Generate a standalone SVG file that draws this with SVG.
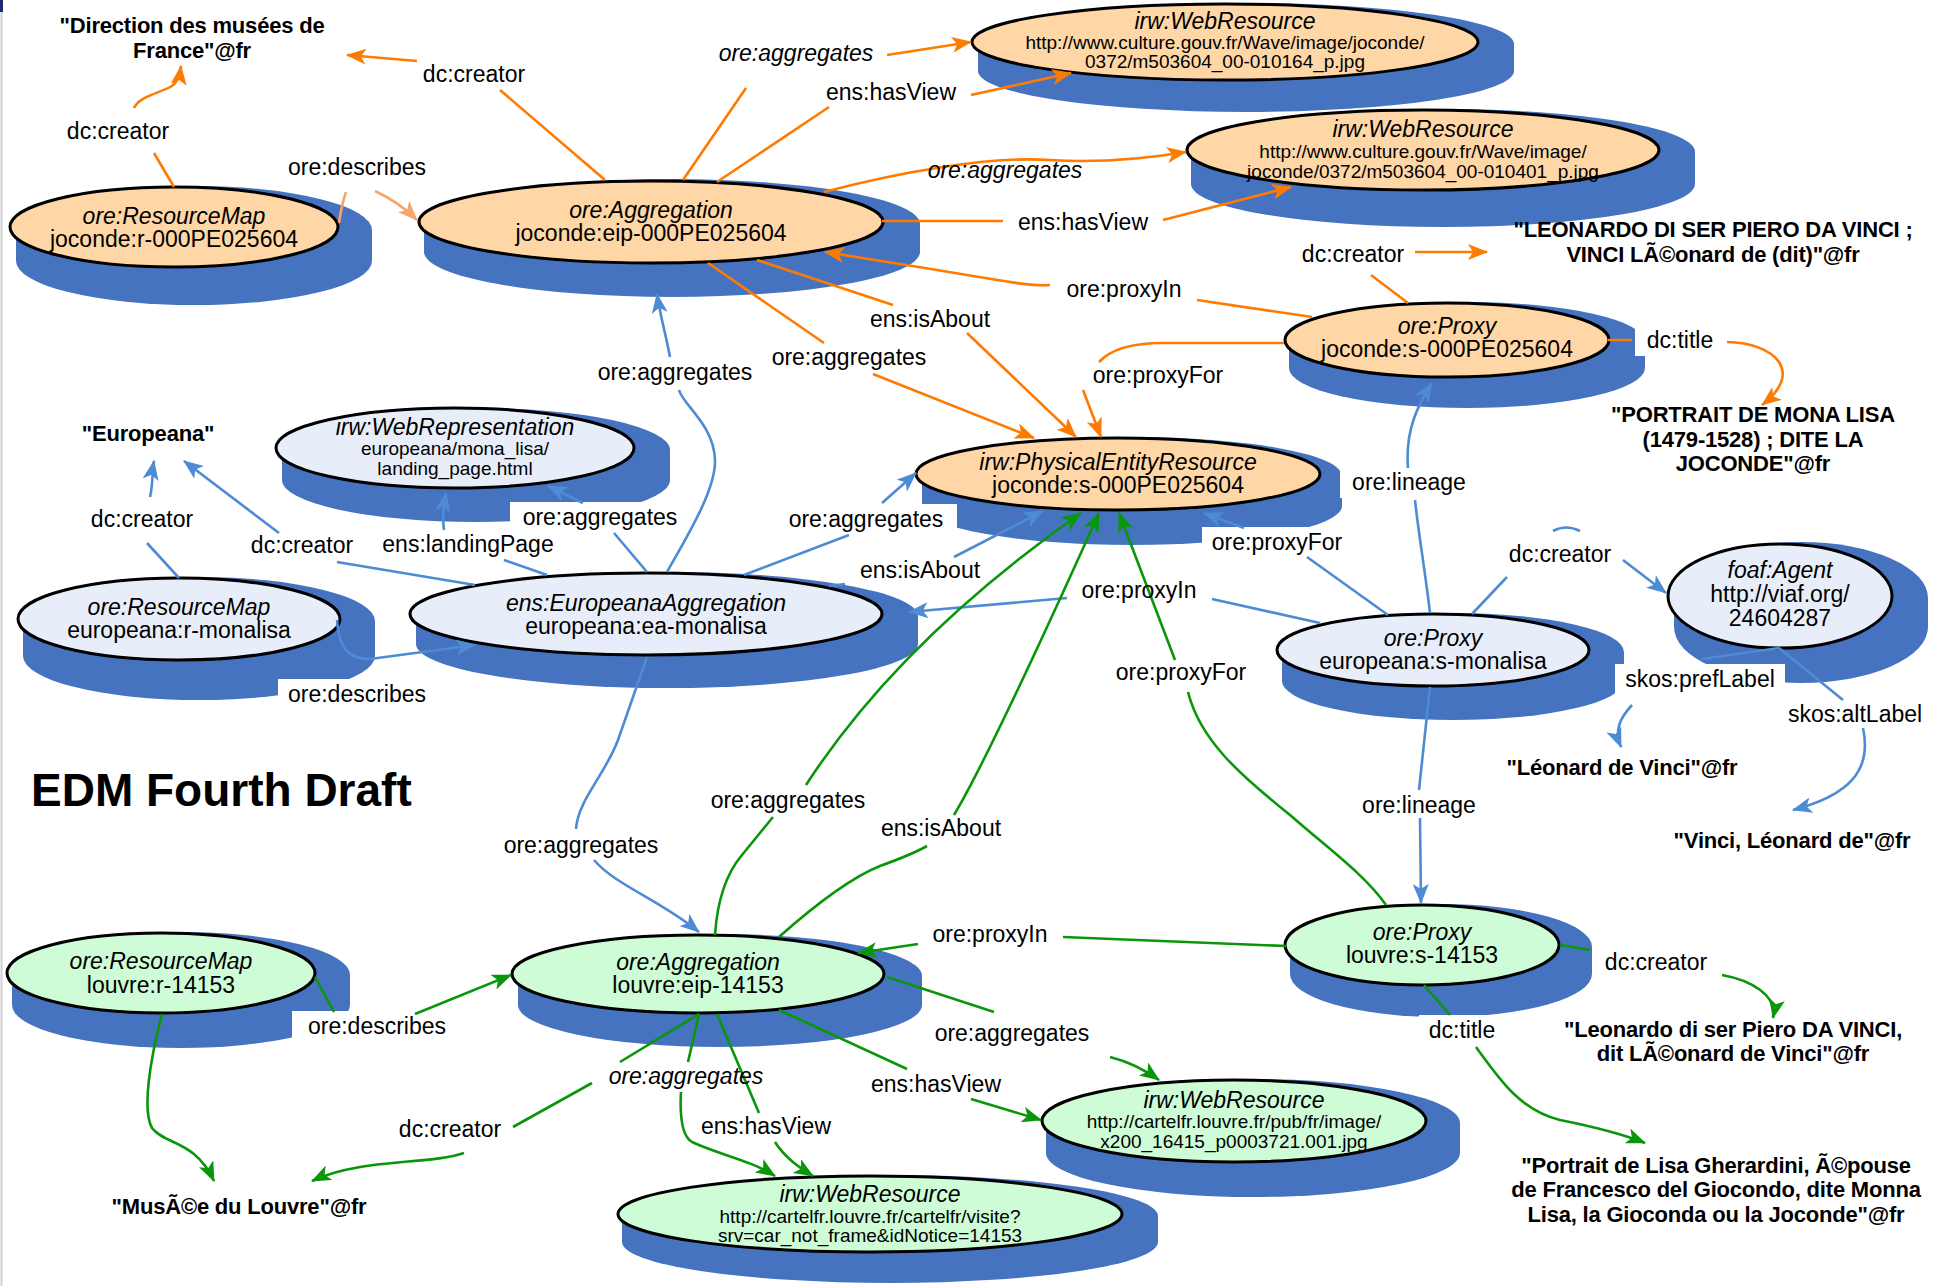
<svg xmlns="http://www.w3.org/2000/svg" width="1939" height="1286" viewBox="0 0 1939 1286">
<defs>
<style>
.sh{fill:#4673c0}
.e{stroke:#000;stroke-width:3}
.fo{fill:#ffd6a5}.fb{fill:#e8eef9}.fg{fill:#cdfcd6}
.t{font-family:"Liberation Sans",Arial,Helvetica,sans-serif;font-size:23px;text-anchor:middle;fill:#000}
.ti{font-style:italic}
.u{font-size:19px}
.lit{font-weight:bold;font-size:22px;letter-spacing:-0.2px}
.c{fill:none;stroke-width:2.6;stroke-linejoin:round}
.co{stroke:#ff7a00}.cs{stroke:#f7a56c}.cb{stroke:#4d8bd5}.cg{stroke:#0a960a}
.lb{fill:#fff}
</style>
<marker id="ao" viewBox="0 0 20 16" refX="19" refY="8" markerWidth="20" markerHeight="16" markerUnits="userSpaceOnUse" orient="auto"><path d="M0,0 L20,8 L0,16 L5,8 Z" fill="#ff7a00"/></marker>
<marker id="as" viewBox="0 0 20 16" refX="19" refY="8" markerWidth="20" markerHeight="16" markerUnits="userSpaceOnUse" orient="auto"><path d="M0,0 L20,8 L0,16 L5,8 Z" fill="#f7a56c"/></marker>
<marker id="ab" viewBox="0 0 20 16" refX="19" refY="8" markerWidth="20" markerHeight="16" markerUnits="userSpaceOnUse" orient="auto"><path d="M0,0 L20,8 L0,16 L5,8 Z" fill="#4d8bd5"/></marker>
<marker id="ag" viewBox="0 0 20 16" refX="19" refY="8" markerWidth="20" markerHeight="16" markerUnits="userSpaceOnUse" orient="auto"><path d="M0,0 L20,8 L0,16 L5,8 Z" fill="#0a960a"/></marker>
</defs>
<rect width="1939" height="1286" fill="#fff"/>
<line x1="1.5" y1="12" x2="1.5" y2="1286" stroke="#d0d0d0" stroke-width="2"/>
<rect x="0" y="0" width="3" height="12" fill="#1f2a6e"/>

<g id="title"><text class="t" style="font-weight:bold;font-size:46px;text-anchor:start" x="31" y="806">EDM Fourth Draft</text></g>

<!-- nodes -->
<g id="n-rm-joconde">
<path class="sh" d="M16 230 A178 44 0 0 1 372 230 L372 261 A178 44 0 0 1 16 261 Z"/>
<ellipse class="e fo" cx="174" cy="227" rx="164" ry="40"/>
<text class="t ti" x="174" y="224">ore:ResourceMap</text>
<text class="t" x="174" y="247">joconde:r-000PE025604</text>
</g>
<g id="n-agg-joconde">
<path class="sh" d="M424 224 A248 45 0 0 1 920 224 L920 252 A248 45 0 0 1 424 252 Z"/>
<ellipse class="e fo" cx="651" cy="222" rx="232" ry="41"/>
<text class="t ti" x="651" y="218">ore:Aggregation</text>
<text class="t" x="651" y="241">joconde:eip-000PE025604</text>
</g>
<g id="n-wr-joconde-1">
<path class="sh" d="M978 44 A268 41 0 0 1 1514 44 L1514 71 A268 41 0 0 1 978 71 Z"/>
<ellipse class="e fo" cx="1225" cy="42" rx="253" ry="38"/>
<text class="t ti" x="1225" y="29">irw:WebResource</text>
<text class="t u" x="1225" y="49">http://www.culture.gouv.fr/Wave/image/joconde/</text>
<text class="t u" x="1225" y="68">0372/m503604_00-010164_p.jpg</text>
</g>
<g id="n-wr-joconde-2">
<path class="sh" d="M1191 152 A252 43 0 0 1 1695 152 L1695 184 A252 43 0 0 1 1191 184 Z"/>
<ellipse class="e fo" cx="1423" cy="150" rx="236" ry="40"/>
<text class="t ti" x="1423" y="137">irw:WebResource</text>
<text class="t u" x="1423" y="158">http://www.culture.gouv.fr/Wave/image/</text>
<text class="t u" x="1423" y="178">joconde/0372/m503604_00-010401_p.jpg</text>
</g>
<g id="n-proxy-joconde">
<path class="sh" d="M1289 342 A178 40 0 0 1 1645 342 L1645 368 A178 40 0 0 1 1289 368 Z"/>
<ellipse class="e fo" cx="1447" cy="340" rx="162" ry="37"/>
<text class="t ti" x="1447" y="334">ore:Proxy</text>
<text class="t" x="1447" y="357">joconde:s-000PE025604</text>
</g>
<g id="n-per">
<path class="sh" d="M922 476 A210 39 0 0 1 1342 476 L1342 506 A210 39 0 0 1 922 506 Z"/>
<ellipse class="e fo" cx="1118" cy="474" rx="202" ry="36"/>
<text class="t ti" x="1118" y="470">irw:PhysicalEntityResource</text>
<text class="t" x="1118" y="493">joconde:s-000PE025604</text>
</g>
<g id="n-webrep">
<path class="sh" d="M282 450 A194 42 0 0 1 670 450 L670 480 A194 42 0 0 1 282 480 Z"/>
<ellipse class="e fb" cx="455" cy="448" rx="179" ry="40"/>
<text class="t ti" x="455" y="435">irw:WebRepresentation</text>
<text class="t u" x="455" y="455">europeana/mona_lisa/</text>
<text class="t u" x="455" y="475">landing_page.html</text>
</g>
<g id="n-rm-europeana">
<path class="sh" d="M23 621 A176 44 0 0 1 375 621 L375 656 A176 44 0 0 1 23 656 Z"/>
<ellipse class="e fb" cx="179" cy="619" rx="161" ry="41"/>
<text class="t ti" x="179" y="615">ore:ResourceMap</text>
<text class="t" x="179" y="638">europeana:r-monalisa</text>
</g>
<g id="n-ea">
<path class="sh" d="M416 616 A251 44 0 0 1 918 616 L918 644 A251 44 0 0 1 416 644 Z"/>
<ellipse class="e fb" cx="646" cy="614" rx="236" ry="41"/>
<text class="t ti" x="646" y="611">ens:EuropeanaAggregation</text>
<text class="t" x="646" y="634">europeana:ea-monalisa</text>
</g>
<g id="n-proxy-europeana">
<path class="sh" d="M1282 652 A171 39 0 0 1 1624 652 L1624 681 A171 39 0 0 1 1282 681 Z"/>
<ellipse class="e fb" cx="1433" cy="650" rx="156" ry="36"/>
<text class="t ti" x="1433" y="646">ore:Proxy</text>
<text class="t" x="1433" y="669">europeana:s-monalisa</text>
</g>
<g id="n-agent">
<path class="sh" d="M1674 598 A127 56 0 0 1 1928 598 L1928 627 A127 56 0 0 1 1674 627 Z"/>
<ellipse class="e fb" cx="1780" cy="596" rx="112" ry="52"/>
<text class="t ti" x="1780" y="578">foaf:Agent</text>
<text class="t" x="1780" y="602">http://viaf.org/</text>
<text class="t" x="1780" y="626">24604287</text>
</g>
<g id="n-agg-louvre">
<path class="sh" d="M518 976 A202 42 0 0 1 922 976 L922 1005 A202 42 0 0 1 518 1005 Z"/>
<ellipse class="e fg" cx="698" cy="974" rx="186" ry="39"/>
<text class="t ti" x="698" y="970">ore:Aggregation</text>
<text class="t" x="698" y="993">louvre:eip-14153</text>
</g>
<g id="n-rm-louvre">
<path class="sh" d="M12 975 A169 43 0 0 1 350 975 L350 1005 A169 43 0 0 1 12 1005 Z"/>
<ellipse class="e fg" cx="161" cy="973" rx="154" ry="40"/>
<text class="t ti" x="161" y="969">ore:ResourceMap</text>
<text class="t" x="161" y="993">louvre:r-14153</text>
</g>
<g id="n-proxy-louvre">
<path class="sh" d="M1290 947 A151 43 0 0 1 1592 947 L1592 974 A151 43 0 0 1 1290 974 Z"/>
<ellipse class="e fg" cx="1422" cy="945" rx="137" ry="40"/>
<text class="t ti" x="1422" y="940">ore:Proxy</text>
<text class="t" x="1422" y="963">louvre:s-14153</text>
</g>
<g id="n-wr-louvre-1">
<path class="sh" d="M1046 1123 A207 44 0 0 1 1460 1123 L1460 1153 A207 44 0 0 1 1046 1153 Z"/>
<ellipse class="e fg" cx="1234" cy="1121" rx="192" ry="41"/>
<text class="t ti" x="1234" y="1108">irw:WebResource</text>
<text class="t u" x="1234" y="1128">http://cartelfr.louvre.fr/pub/fr/image/</text>
<text class="t u" x="1234" y="1148">x200_16415_p0003721.001.jpg</text>
</g>
<g id="n-wr-louvre-2">
<path class="sh" d="M622 1216 A268 41 0 0 1 1158 1216 L1158 1242 A268 41 0 0 1 622 1242 Z"/>
<ellipse class="e fg" cx="870" cy="1214" rx="252" ry="38"/>
<text class="t ti" x="870" y="1202">irw:WebResource</text>
<text class="t u" x="870" y="1223">http://cartelfr.louvre.fr/cartelfr/visite?</text>
<text class="t u" x="870" y="1242">srv=car_not_frame&amp;idNotice=14153</text>
</g>

<!-- literal nodes -->
<g id="lit-direction"><text class="t lit" x="192" y="33">"Direction des musées de</text><text class="t lit" x="192" y="58">France"@fr</text></g>
<g id="lit-europeana"><text class="t lit" x="148" y="441">"Europeana"</text></g>
<g id="lit-leonardo-caps"><text class="t lit" x="1713" y="237">"LEONARDO DI SER PIERO DA VINCI ;</text><text class="t lit" x="1713" y="262">VINCI LÃ©onard de (dit)"@fr</text></g>
<g id="lit-portrait-caps"><text class="t lit" x="1753" y="422">"PORTRAIT DE MONA LISA</text><text class="t lit" x="1753" y="447">(1479-1528) ; DITE LA</text><text class="t lit" x="1753" y="471">JOCONDE"@fr</text></g>
<g id="lit-pref"><text class="t lit" x="1622" y="775">"Léonard de Vinci"@fr</text></g>
<g id="lit-alt"><text class="t lit" x="1792" y="848">"Vinci, Léonard de"@fr</text></g>
<g id="lit-leonardo"><text class="t lit" x="1733" y="1037">"Leonardo di ser Piero DA VINCI,</text><text class="t lit" x="1733" y="1061">dit LÃ©onard de Vinci"@fr</text></g>
<g id="lit-portrait"><text class="t lit" x="1716" y="1173">"Portrait de Lisa Gherardini, Ã©pouse</text><text class="t lit" x="1716" y="1197">de Francesco del Giocondo, dite Monna</text><text class="t lit" x="1716" y="1222">Lisa, la Gioconda ou la Joconde"@fr</text></g>
<g id="lit-musee"><text class="t lit" x="239" y="1214">"MusÃ©e du Louvre"@fr</text></g>

<!-- label backgrounds -->
<g id="label-bg" class="lb">
<rect x="57" y="116" width="122" height="31"/>
<rect x="413" y="59" width="122" height="31"/>
<rect x="278" y="152" width="158" height="31"/>
<rect x="816" y="77" width="150" height="31"/>
<rect x="1008" y="207" width="150" height="31"/>
<rect x="1057" y="274" width="135" height="31"/>
<rect x="1292" y="239" width="122" height="31"/>
<rect x="1635" y="325" width="90" height="31"/>
<rect x="1083" y="360" width="150" height="31"/>
<rect x="860" y="304" width="140" height="31"/>
<rect x="762" y="342" width="175" height="31"/>
<rect x="81" y="504" width="122" height="31"/>
<rect x="241" y="530" width="122" height="31"/>
<rect x="373" y="529" width="191" height="31"/>
<rect x="510" y="502" width="178" height="31"/>
<rect x="588" y="357" width="175" height="31"/>
<rect x="779" y="504" width="178" height="31"/>
<rect x="850" y="555" width="140" height="31"/>
<rect x="1072" y="575" width="135" height="31"/>
<rect x="1202" y="527" width="150" height="31"/>
<rect x="1340" y="467" width="138" height="31"/>
<rect x="1499" y="539" width="122" height="31"/>
<rect x="1615" y="664" width="170" height="31"/>
<rect x="1778" y="699" width="154" height="31"/>
<rect x="278" y="679" width="158" height="31"/>
<rect x="494" y="830" width="175" height="31"/>
<rect x="1352" y="790" width="134" height="31"/>
<rect x="701" y="785" width="175" height="31"/>
<rect x="871" y="813" width="140" height="31"/>
<rect x="1106" y="657" width="150" height="31"/>
<rect x="922" y="919" width="135" height="31"/>
<rect x="292" y="1011" width="164" height="31"/>
<rect x="925" y="1018" width="175" height="31"/>
<rect x="861" y="1069" width="150" height="31"/>
<rect x="691" y="1111" width="150" height="31"/>
<rect x="389" y="1114" width="122" height="31"/>
<rect x="1595" y="947" width="122" height="31"/>
<rect x="1419" y="1015" width="86" height="31"/>
</g>

<!-- connectors -->
<g id="connectors">
<g class="c co" marker-end="url(#ao)">
<path d="M174 187 L154 153 M134 108 C140 96 160 93 172 86 C178 82 180 74 181 66"/>
<path d="M605 180 L500 90 M417 61 L347 55"/>
<path d="M683 180 L746 88 M887 55 L971 42"/>
<path d="M717 182 L829 107 M971 95 L1071 73"/>
<path d="M824 192 C900 172 990 156 1050 160 C1100 163 1150 158 1186 152"/>
<path d="M882 221 L1003 221 M1163 220 L1291 187"/>
<path d="M1312 317 L1197 300 M1050 285 C1030 287 1000 280 900 264 L825 252"/>
<path d="M1408 303 L1371 275 M1415 252 L1487 252"/>
<path d="M1608 340 L1632 340 M1727 342 C1775 343 1805 372 1762 405"/>
<path d="M1284 343 L1163 343 C1130 343 1110 350 1099 362 M1083 390 L1101 437"/>
<path d="M757 260 L893 305 M967 333 L1076 437"/>
<path d="M708 263 L824 343 M873 374 L1034 438"/>
</g>
<path class="c cs" marker-end="url(#as)" d="M339 223 C341 210 343 200 346 192 M375 191 C390 198 405 208 417 220"/>
<g class="c cb" marker-end="url(#ab)">
<path d="M179 578 L147 543 M150 497 C153 485 152 472 154 461"/>
<path d="M475 585 L337 562 M279 533 L184 461"/>
<path d="M547 575 L504 560 M444 530 C442 515 444 505 446 493"/>
<path d="M647 572 L614 533 M583 503 L548 486"/>
<path d="M667 572 C685 540 716 490 715 460 C714 425 683 405 679 390 M670 357 C666 335 660 315 657 294"/>
<path d="M744 575 L849 535 M882 503 L916 473"/>
<path d="M829 586 L845 584 M954 557 L1043 511"/>
<path d="M1320 623 L1212 599 M1067 598 L909 612"/>
<path d="M1388 615 L1307 557 M1244 528 L1204 513"/>
<path d="M1430 613 C1425 570 1418 530 1415 500 M1408 468 C1405 430 1418 405 1432 383"/>
<path d="M1553 531 Q1566 524 1580 531 M1472 614 L1507 577 M1623 560 L1666 593"/>
<path d="M1779 648 L1702 659 M1632 705 C1620 718 1614 730 1621 747"/>
<path d="M1779 648 L1843 700 M1863 728 C1872 770 1850 795 1793 810"/>
<path d="M337 620 C339 650 350 659 370 659 L475 645"/>
<path d="M647 657 L618 740 C605 775 578 800 576 829 M594 860 C615 885 660 900 699 932"/>
<path d="M1430 687 L1419 790 M1420 818 L1421 903"/>
</g>
<g class="c cg" marker-end="url(#ag)">
<path d="M162 1014 C150 1060 142 1110 152 1128 C165 1145 195 1140 214 1181"/>
<path d="M699 1014 L620 1062 M592 1083 L513 1127 M464 1153 C430 1165 360 1158 312 1181"/>
<path d="M699 1014 L688 1062 M681 1092 C680 1110 680 1135 692 1142 C720 1155 750 1160 775 1176"/>
<path d="M717 1014 L759 1113 M775 1142 C785 1158 800 1168 813 1176"/>
<path d="M779 1010 L907 1069 M971 1099 L1041 1120"/>
<path d="M887 977 L994 1012 M1110 1057 C1130 1062 1145 1070 1159 1080"/>
<path d="M1286 946 L1063 937 M918 944 L858 953"/>
<path d="M715 935 C717 905 725 875 742 855 L773 817 M806 785 Q900 640 1081 513"/>
<path d="M779 937 C815 905 850 878 880 866 C905 857 920 850 927 846 M954 815 Q990 755 1099 513"/>
<path d="M1386 905 C1365 875 1330 850 1290 815 C1240 775 1200 740 1188 692 M1175 660 L1119 513"/>
<path d="M315 977 L334 1012 M415 1014 L511 975"/>
<path d="M1560 945 L1590 950 M1722 975 C1750 980 1778 995 1773 1018"/>
<path d="M1424 985 L1450 1015 M1476 1047 C1500 1080 1520 1110 1560 1120 C1600 1128 1625 1135 1645 1143"/>
</g>
</g>

<!-- edge labels -->
<g id="edge-labels" class="t">
<text x="118" y="139">dc:creator</text>
<text x="474" y="82">dc:creator</text>
<text x="357" y="175">ore:describes</text>
<text class="ti" x="796" y="61">ore:aggregates</text>
<text x="891" y="100">ens:hasView</text>
<text class="ti" x="1005" y="178">ore:aggregates</text>
<text x="1083" y="230">ens:hasView</text>
<text x="1124" y="297">ore:proxyIn</text>
<text x="1353" y="262">dc:creator</text>
<text x="1680" y="348">dc:title</text>
<text x="1158" y="383">ore:proxyFor</text>
<text x="930" y="327">ens:isAbout</text>
<text x="849" y="365">ore:aggregates</text>
<text x="142" y="527">dc:creator</text>
<text x="302" y="553">dc:creator</text>
<text x="468" y="552">ens:landingPage</text>
<text x="600" y="525">ore:aggregates</text>
<text x="675" y="380">ore:aggregates</text>
<text x="866" y="527">ore:aggregates</text>
<text x="920" y="578">ens:isAbout</text>
<text x="1139" y="598">ore:proxyIn</text>
<text x="1277" y="550">ore:proxyFor</text>
<text x="1409" y="490">ore:lineage</text>
<text x="1560" y="562">dc:creator</text>
<text x="1700" y="687">skos:prefLabel</text>
<text x="1855" y="722">skos:altLabel</text>
<text x="357" y="702">ore:describes</text>
<text x="581" y="853">ore:aggregates</text>
<text x="1419" y="813">ore:lineage</text>
<text x="788" y="808">ore:aggregates</text>
<text x="941" y="836">ens:isAbout</text>
<text x="1181" y="680">ore:proxyFor</text>
<text x="990" y="942">ore:proxyIn</text>
<text x="377" y="1034">ore:describes</text>
<text x="1012" y="1041">ore:aggregates</text>
<text x="936" y="1092">ens:hasView</text>
<text class="ti" x="686" y="1084">ore:aggregates</text>
<text x="766" y="1134">ens:hasView</text>
<text x="450" y="1137">dc:creator</text>
<text x="1656" y="970">dc:creator</text>
<text x="1462" y="1038">dc:title</text>
</g>
</svg>
